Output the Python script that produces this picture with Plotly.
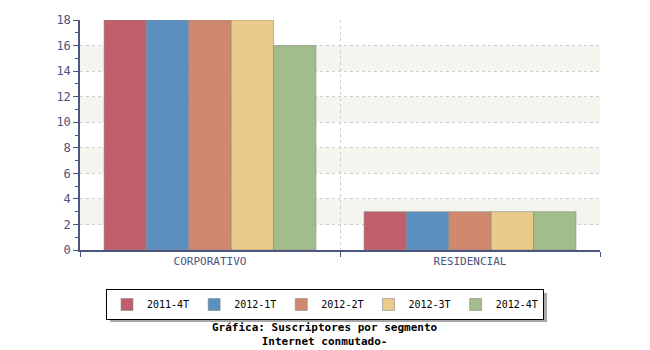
import plotly.graph_objects as go

categories = ["CORPORATIVO", "RESIDENCIAL"]
series_names = ["2011-4T", "2012-1T", "2012-2T", "2012-3T", "2012-4T"]
values = {
    "2011-4T": [18, 3],
    "2012-1T": [18, 3],
    "2012-2T": [18, 3],
    "2012-3T": [18, 3],
    "2012-4T": [16, 3],
}
colors = ["#bf5f6b", "#5b8fbf", "#d0886f", "#ebcb8b", "#a3bc8b"]
y_ticks = list(range(0, 19, 2))

axis_color = "#4a5580"
mono = "DejaVu Sans Mono"

fig = go.Figure()
for name, col in zip(series_names, colors):
    fig.add_trace(go.Bar(
        x=categories, y=values[name], name=name,
        marker=dict(color=col, line=dict(color="#8a8a8a", width=0.6)),
    ))

def px(x):
    return (x - 80) / 520

def py(y):
    return (250 - y) / 230

# alternating background bands
shapes = []
for lo in y_ticks[1:-1:2]:
    shapes.append(dict(type="rect", xref="paper", yref="y", x0=0, x1=1,
                       y0=lo, y1=lo + 2, fillcolor="#f5f5f0",
                       line=dict(width=0), layer="below"))
# legend drop shadow
shapes.append(dict(type="rect", xref="paper", yref="paper",
                   x0=px(110), x1=px(547), y0=py(322), y1=py(293),
                   fillcolor="#a8a8a8", line=dict(width=0), layer="below"))

fig.update_layout(
    width=650, height=350,
    margin=dict(l=80, r=50, t=20, b=100),
    paper_bgcolor="white", plot_bgcolor="white",
    barmode="group", bargap=0.185, bargroupgap=0,
    font=dict(family=mono, size=11, color=axis_color),
    shapes=shapes,
    showlegend=True,
    legend=dict(orientation="h", xanchor="center", x=px(325),
                yanchor="top", y=py(289),
                bgcolor="white", bordercolor="#000000", borderwidth=1,
                font=dict(family=mono, size=10, color="#000000"),
                itemwidth=30, tracegroupgap=0),
    xaxis=dict(range=[-0.5, 1.5], tickson="boundaries", ticks="outside",
               ticklen=5, tickcolor=axis_color, showline=True,
               linecolor=axis_color, linewidth=1.5, showgrid=True,
               gridcolor="#cccccc", griddash="dot", gridwidth=1,
               tickfont=dict(family=mono, size=11, color=axis_color)),
    yaxis=dict(range=[0, 18], tickvals=y_ticks, ticks="outside", ticklen=5,
               tickcolor=axis_color, showline=True, linecolor=axis_color,
               linewidth=1.5, showgrid=True, gridcolor="#cccccc",
               griddash="dot", gridwidth=1, zeroline=False,
               minor=dict(dtick=1, ticks="outside", ticklen=3,
                          tickcolor=axis_color, showgrid=False),
               tickfont=dict(family=mono, size=12, color=axis_color)),
    annotations=[dict(text="<b>Gráfica: Suscriptores por segmento<br>Internet conmutado-</b>",
                      xref="paper", yref="paper", x=px(325),
                      y=py(319), xanchor="center", yanchor="top",
                      showarrow=False, align="center",
                      font=dict(family=mono, size=11, color="#000000"))],
)

fig.write_html("out.html")
